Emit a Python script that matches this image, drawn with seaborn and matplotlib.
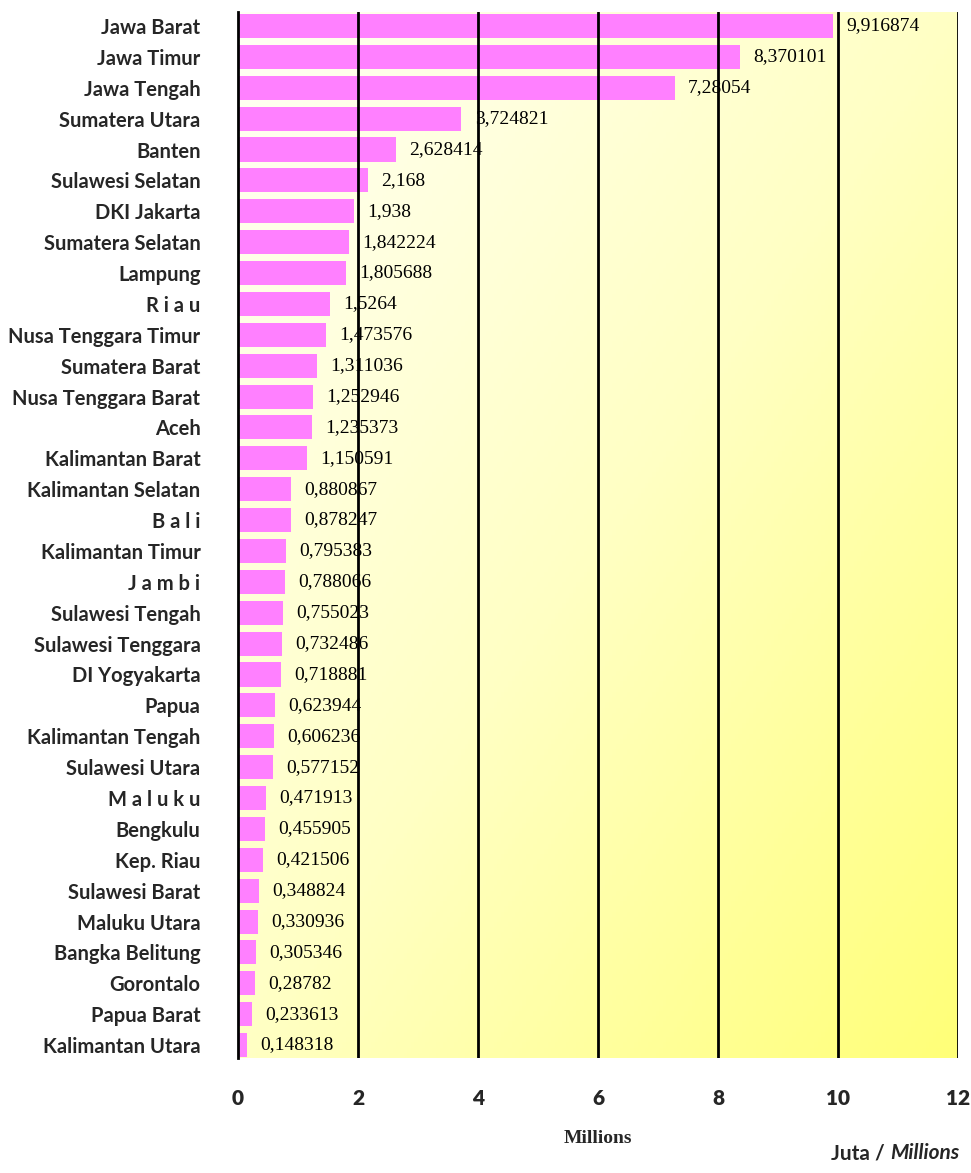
import numpy as np
import pandas as pd
import seaborn as sns
import matplotlib.pyplot as plt
from matplotlib.colors import LinearSegmentedColormap

# Data (juta / millions)
provinsi = ['Jawa Barat', 'Jawa Timur', 'Jawa Tengah', 'Sumatera Utara', 'Banten',
            'Sulawesi Selatan', 'DKI Jakarta', 'Sumatera Selatan', 'Lampung', 'R i a u',
            'Nusa Tenggara Timur', 'Sumatera Barat', 'Nusa Tenggara Barat', 'Aceh',
            'Kalimantan Barat', 'Kalimantan Selatan', 'B a l i', 'Kalimantan Timur',
            'J a m b i', 'Sulawesi Tengah', 'Sulawesi Tenggara', 'DI Yogyakarta', 'Papua',
            'Kalimantan Tengah', 'Sulawesi Utara', 'M a l u k u', 'Bengkulu', 'Kep. Riau',
            'Sulawesi Barat', 'Maluku Utara', 'Bangka Belitung', 'Gorontalo', 'Papua Barat',
            'Kalimantan Utara']
nilai = [9.916874, 8.370101, 7.28054, 3.724821, 2.628414, 2.168, 1.938, 1.842224,
         1.805688, 1.5264, 1.473576, 1.311036, 1.252946, 1.235373, 1.150591, 0.880867,
         0.878247, 0.795383, 0.788066, 0.755023, 0.732486, 0.718881, 0.623944, 0.606236,
         0.577152, 0.471913, 0.455905, 0.421506, 0.348824, 0.330936, 0.305346, 0.28782,
         0.233613, 0.148318]
xticks = [0, 2, 4, 6, 8, 10, 12]

df = pd.DataFrame({'provinsi': provinsi, 'nilai': nilai})

sns.set_style('white')
sans = ['Lato', 'DejaVu Sans']
serif = ['Liberation Serif', 'DejaVu Serif']

fig = plt.figure(figsize=(9.71, 11.73), dpi=100)
ax = fig.add_axes([0.2451, 0.098, 0.7415, 0.8917])

# latar gradasi kuning (kiri atas pucat, kanan bawah kuning)
cmap = LinearSegmentedColormap.from_list('kuning', ['#FFFFF4', '#FFFFC4', '#FFFF78'])
xx, yy = np.meshgrid(np.linspace(0, 1, 200), np.linspace(0, 1, 200))
grad = (xx + yy) / 2
ax.imshow(grad, cmap=cmap, extent=[0, 1, 0, 1], transform=ax.transAxes,
          aspect='auto', origin='upper', zorder=0)

sns.barplot(data=df, x='nilai', y='provinsi', orient='h', color='#FF80FF',
            saturation=1, width=0.78, linewidth=0, ax=ax, zorder=2)

for i, v in enumerate(nilai):
    ax.text(v + 0.22, i, repr(v).replace('.', ','), va='center', ha='left',
            fontsize=14, family=serif, color='black', zorder=4)

ax.set_xlim(0, 12)
ax.set_ylim(33.42, -0.45)
ax.set_xticks(xticks)
ax.set_xticklabels([str(t) for t in xticks], fontsize=15, fontweight='heavy', family=sans)
for x in xticks[1:]:
    ax.axvline(x, color='black', lw=2, zorder=3)
for s in ['top', 'right', 'bottom']:
    ax.spines[s].set_visible(False)
ax.spines['left'].set_color('black')
ax.spines['left'].set_linewidth(2)
ax.spines['left'].set_zorder(5)
ax.tick_params(axis='x', length=0, pad=22)
ax.tick_params(axis='y', length=0, pad=27)
for lbl in ax.get_yticklabels():
    lbl.set_fontsize(14.5)
    lbl.set_fontweight('bold')
    lbl.set_family(sans)
ax.set_ylabel('')
ax.set_xlabel('Millions', fontsize=14, fontweight='bold', family=serif, labelpad=16)

# catatan satuan di kanan bawah
t2 = fig.text(0.988, 0.0085, 'Millions', ha='right', va='bottom', fontsize=15,
              fontweight='bold', style='italic', family=sans)
fig.canvas.draw()
bb = t2.get_window_extent().transformed(fig.transFigure.inverted())
fig.text(bb.x0, 0.0085, 'Juta / ', ha='right', va='bottom', fontsize=15,
         fontweight='bold', family=sans)

fig.savefig('out.png', dpi=100)
